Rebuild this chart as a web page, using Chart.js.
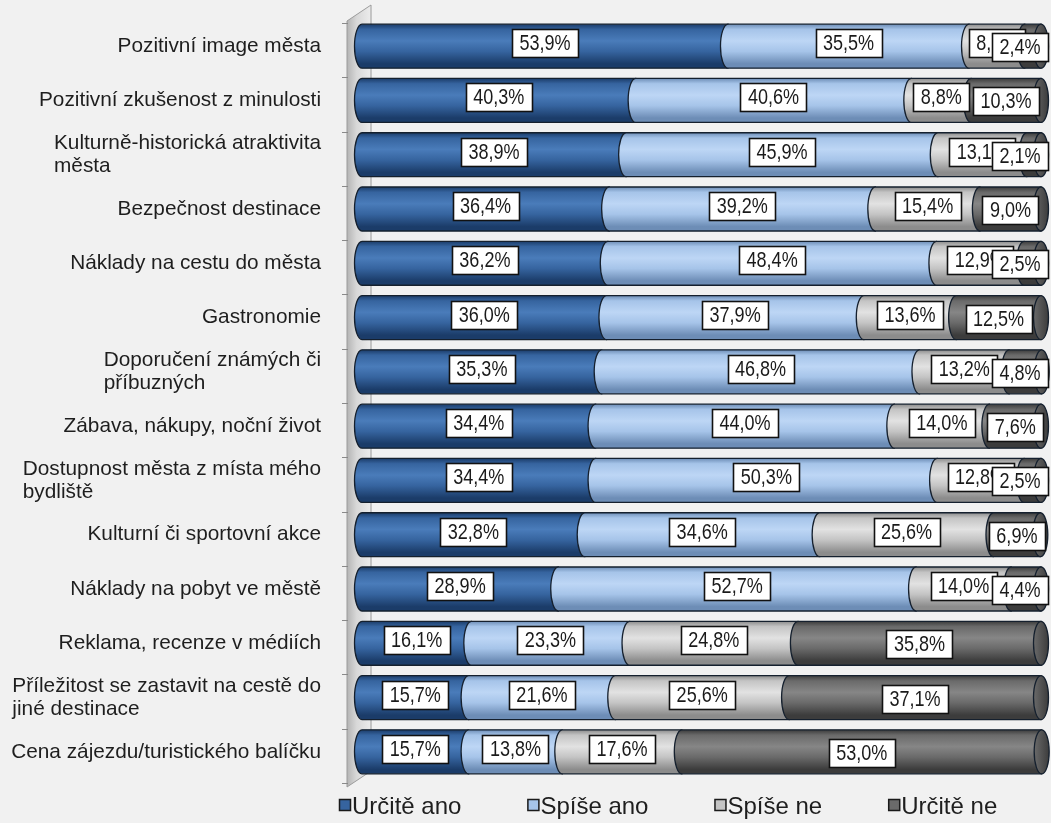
<!DOCTYPE html>
<html lang="cs">
<head>
<meta charset="utf-8">
<title>Faktory výběru města</title>
<script src="https://cdn.jsdelivr.net/npm/chart.js@4.4.1/dist/chart.umd.min.js"></script>
<style>
  html, body { margin: 0; padding: 0; background: #f1f1f1; }
  #graf { display: block; }
</style>
</head>
<body>
<canvas id="graf" width="1051" height="823"></canvas>
<script>
// kategorie (víceřádkové popisky jako pole řádků)
const kategorie = [
    ['Pozitivní image města'],
    ['Pozitivní zkušenost z minulosti'],
    ['Kulturně-historická atraktivita', 'města'],
    ['Bezpečnost destinace'],
    ['Náklady na cestu do města'],
    ['Gastronomie'],
    ['Doporučení známých či', 'příbuzných'],
    ['Zábava, nákupy, noční život'],
    ['Dostupnost města z místa mého', 'bydliště'],
    ['Kulturní či sportovní akce'],
    ['Náklady na pobyt ve městě'],
    ['Reklama, recenze v médiích'],
    ['Příležitost se zastavit na cestě do', 'jiné destinace'],
    ['Cena zájezdu/turistického balíčku']
];

const urciteAno = [53.9, 40.3, 38.9, 36.4, 36.2, 36.0, 35.3, 34.4, 34.4, 32.8, 28.9, 16.1, 15.7, 15.7];
const spiseAno  = [35.5, 40.6, 45.9, 39.2, 48.4, 37.9, 46.8, 44.0, 50.3, 34.6, 52.7, 23.3, 21.6, 13.8];
const spiseNe   = [8.2, 8.8, 13.1, 15.4, 12.9, 13.6, 13.2, 14.0, 12.8, 25.6, 14.0, 24.8, 25.6, 17.6];
const urciteNe  = [2.4, 10.3, 2.1, 9.0, 2.5, 12.5, 4.8, 7.6, 2.5, 6.9, 4.4, 35.8, 37.1, 53.0];

const nazvyRad = ['Určitě ano', 'Spíše ano', 'Spíše ne', 'Určitě ne'];

// barvy válců: [okraj, základ, odlesk]
const paleta = [
    ['#1b3c69', '#36649f', '#4a7cba'],
    ['#6d8db6', '#a6c4e9', '#bdd6f5'],
    ['#8c8c8c', '#c4c4c4', '#e2e2e2'],
    ['#3c3c3c', '#6a6a6a', '#868686']
];

const FONT = '"Liberation Sans", Arial, sans-serif';

function valecGradient(ctx, top, bot, barvy) {
    const g = ctx.createLinearGradient(0, top, 0, bot);
    g.addColorStop(0, barvy[0]);
    g.addColorStop(0.12, barvy[1]);
    g.addColorStop(0.38, barvy[2]);
    g.addColorStop(0.62, barvy[1]);
    g.addColorStop(0.9, barvy[0]);
    g.addColorStop(1, barvy[0]);
    return g;
}

// jeden úsek válce od x0 do x1, levý konec je vypouklá elipsa
function kresliValec(ctx, x0, x1, yc, h, barvy, vicko) {
    const rx = 7.5, ry = h / 2;
    const top = yc - ry, bot = yc + ry;
    ctx.save();
    ctx.beginPath();
    ctx.moveTo(x1, top);
    ctx.lineTo(x0, top);
    ctx.ellipse(x0, yc, rx, ry, 0, -Math.PI / 2, Math.PI / 2, true);
    ctx.lineTo(x1, bot);
    ctx.closePath();
    ctx.fillStyle = valecGradient(ctx, top, bot, barvy);
    ctx.fill();
    ctx.lineWidth = 1.3;
    ctx.strokeStyle = '#15202e';
    ctx.stroke();
    if (vicko) {
        ctx.beginPath();
        ctx.ellipse(x1, yc, rx, ry, 0, 0, Math.PI * 2);
        const g = ctx.createLinearGradient(x1 - rx, 0, x1 + rx, 0);
        g.addColorStop(0, barvy[1]);
        g.addColorStop(1, barvy[0]);
        ctx.fillStyle = g;
        ctx.fill();
        ctx.stroke();
    }
    ctx.restore();
}

// 3D stěna vlevo za sloupci, válce, popisky a legenda
const stena = {
    id: 'stena',
    beforeDatasetsDraw(chart) {
        const ctx = chart.ctx;
        const a = chart.chartArea;
        ctx.save();
        ctx.beginPath();
        ctx.moveTo(347, a.top + 2);
        ctx.lineTo(371, a.top - 14);
        ctx.lineTo(371, a.bottom - 8);
        ctx.lineTo(347, a.bottom + 8);
        ctx.closePath();
        const g = ctx.createLinearGradient(347, 0, 371, 0);
        g.addColorStop(0, '#b4b4b4');
        g.addColorStop(0.4, '#d8d8d8');
        g.addColorStop(1, '#ececec');
        ctx.fillStyle = g;
        ctx.fill();
        ctx.lineWidth = 1;
        ctx.strokeStyle = '#9a9a9a';
        ctx.stroke();
        // značky mezi kategoriemi
        ctx.beginPath();
        const krok = (a.bottom - a.top) / kategorie.length;
        for (let i = 0; i <= kategorie.length; i++) {
            const yy = Math.round(a.top + i * krok) + 0.5;
            ctx.moveTo(342, yy + 4);
            ctx.lineTo(348, yy + 4);
        }
        ctx.strokeStyle = '#8a8a8a';
        ctx.stroke();
        ctx.restore();
    },
    afterDatasetsDraw(chart) {
        const ctx = chart.ctx;
        const posledni = chart.data.datasets.length - 1;
        chart.data.datasets.forEach((ds, i) => {
            chart.getDatasetMeta(i).data.forEach(el => {
                const p = el.getProps(['x', 'y', 'base', 'height'], true);
                kresliValec(ctx, p.base, p.x, p.y, p.height, paleta[i], i === posledni);
            });
        });

        // popisky hodnot v bílých rámečcích (úzké písmo)
        const sx = 0.82;
        ctx.save();
        ctx.font = '22px ' + FONT;
        ctx.textAlign = 'center';
        ctx.textBaseline = 'middle';
        const n = chart.data.labels.length;
        for (let j = 0; j < n; j++) {
            chart.data.datasets.forEach((ds, i) => {
                const p = chart.getDatasetMeta(i).data[j].getProps(['x', 'y', 'base'], true);
                const text = ds.data[j].toFixed(1).replace('.', ',') + '%';
                const w = Math.round(ctx.measureText(text).width * sx + 15);
                const h = 28;
                let cx = (p.base + p.x) / 2;
                if (cx + w / 2 > chart.width - 3) cx = chart.width - 3 - w / 2;
                const cy = i === posledni ? p.y + 1 : p.y - 3;
                const bx = Math.round(cx - w / 2) + 0.5, by = Math.round(cy - h / 2) + 0.5;
                ctx.fillStyle = '#ffffff';
                ctx.fillRect(bx, by, w, h);
                ctx.lineWidth = 1.6;
                ctx.strokeStyle = '#111111';
                ctx.strokeRect(bx, by, w, h);
                ctx.save();
                ctx.translate(cx, cy + 1);
                ctx.scale(sx, 1);
                ctx.fillStyle = '#1a1a1a';
                ctx.fillText(text, 0, 0);
                ctx.restore();
            });
        }
        ctx.restore();
    },
    afterDraw(chart) {
        const ctx = chart.ctx;
        const y = chart.scales.y;
        ctx.save();
        // popisky kategorií: blok zarovnaný vpravo, řádky zarovnané vlevo
        ctx.font = '20.8px ' + FONT;
        ctx.fillStyle = '#1e1e1e';
        ctx.textBaseline = 'middle';
        ctx.textAlign = 'left';
        const pravyOkraj = 321;
        const radek = 23;
        chart.data.labels.forEach((lbl, j) => {
            const yc = y.getPixelForValue(j);
            const sirka = Math.max(...lbl.map(t => ctx.measureText(t).width));
            const x0 = pravyOkraj - sirka;
            lbl.forEach((t, k) => {
                const yy = yc + (k - (lbl.length - 1) / 2) * radek;
                ctx.fillText(t, x0, yy);
            });
        });

        // legenda dole
        ctx.font = '24px ' + FONT;
        let lx = 339;
        const ly = 807;
        chart.data.datasets.forEach((ds, i) => {
            ctx.fillStyle = paleta[i][1];
            ctx.fillRect(lx + 0.5, ly - 7.5, 11, 11);
            ctx.lineWidth = 1.5;
            ctx.strokeStyle = '#1a1a1a';
            ctx.strokeRect(lx + 0.5, ly - 7.5, 11, 11);
            ctx.fillStyle = '#1e1e1e';
            ctx.fillText(ds.label, lx + 13, ly);
            lx += 13 + ctx.measureText(ds.label).width + 66;
        });
        ctx.restore();
    }
};

const data = {
    labels: kategorie,
    datasets: [urciteAno, spiseAno, spiseNe, urciteNe].map((hodnoty, i) => ({
        label: nazvyRad[i],
        data: hodnoty,
        backgroundColor: 'rgba(0,0,0,0)',
        borderWidth: 0,
        barPercentage: 0.81,
        categoryPercentage: 1
    }))
};

const graf = new Chart(document.getElementById('graf').getContext('2d'), {
    type: 'bar',
    data: data,
    options: {
        indexAxis: 'y',
        responsive: false,
        devicePixelRatio: 1,
        animation: false,
        layout: { padding: { left: 362, right: 10, top: 19, bottom: 44 } },
        scales: {
            x: { stacked: true, min: 0, max: 100, display: false },
            y: { stacked: true, display: false }
        },
        plugins: {
            legend: { display: false },
            tooltip: { enabled: false }
        }
    },
    plugins: [stena]
});
</script>
</body>
</html>
